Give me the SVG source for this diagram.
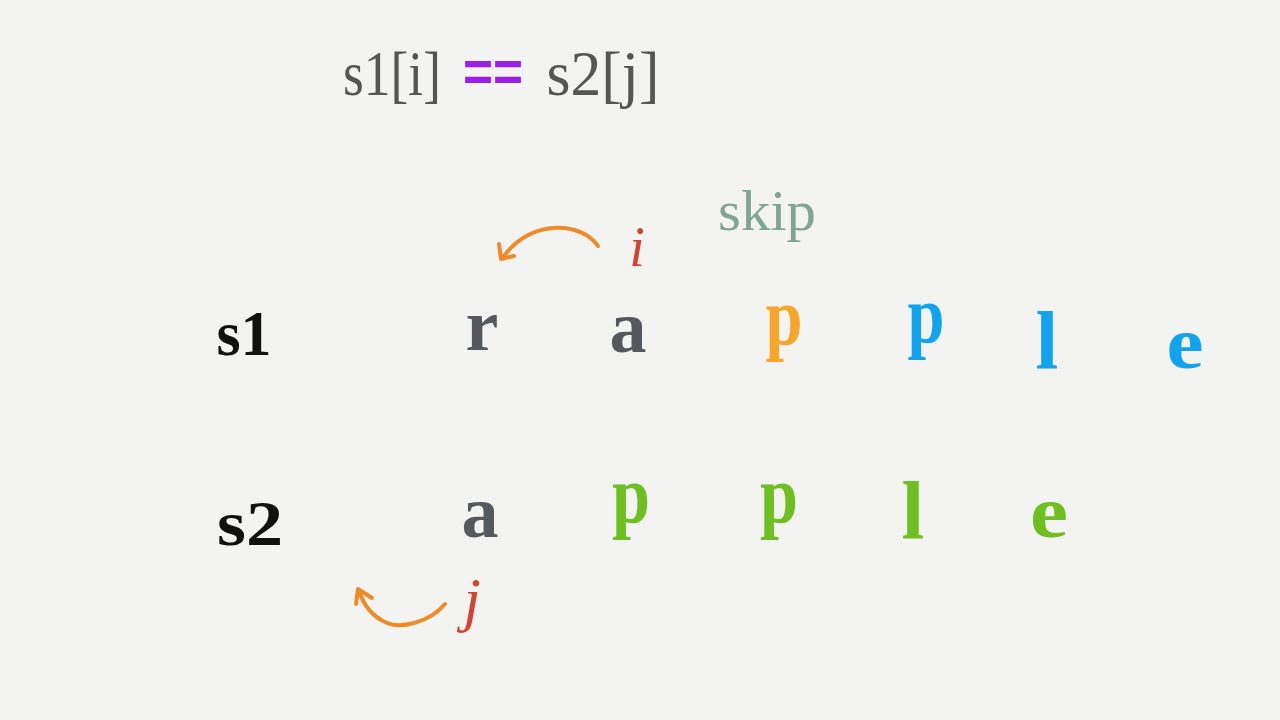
<svg xmlns="http://www.w3.org/2000/svg" width="1280" height="720" viewBox="0 0 1280 720">
<style>
.t{font-family:"Liberation Serif","DejaVu Serif",serif;text-anchor:middle}
.ch{font-size:74px;font-weight:bold}
.tall{font-size:82px}
.gray{fill:#55595d}
.org{fill:#f7a62c}
.blue{fill:#10a4ee}
.grn{fill:#6ec020}
.lbl{font-size:64px;font-weight:bold;fill:#111}
.arc{fill:none;stroke:#ef8a26;stroke-width:4;stroke-linecap:round;stroke-linejoin:round}
.ptr{font-family:"Liberation Serif",serif;font-style:italic;fill:#d4432c;text-anchor:middle}
</style>
<rect width="1280" height="720" fill="#f3f3f1"/>
<g id="title">
<text class="t" x="392" y="95" font-size="64" fill="#555" textLength="98" lengthAdjust="spacingAndGlyphs">s1[i]</text>
<text x="493" y="91" font-family="Liberation Sans,sans-serif" font-size="58" font-weight="bold" fill="#9b1fe8" text-anchor="middle" textLength="60" lengthAdjust="spacingAndGlyphs">==</text>
<text class="t" x="603" y="95" font-size="64" fill="#555" textLength="113" lengthAdjust="spacingAndGlyphs">s2[j]</text>
</g>
<g id="skip"><text class="t" x="767" y="230" font-size="56" fill="#7fa596" textLength="98" lengthAdjust="spacingAndGlyphs">skip</text></g>
<g id="ptr-i"><text class="ptr" x="637" y="266" font-size="56">i</text></g>
<g id="ptr-j"><text class="ptr" x="472" y="620" font-size="62">j</text></g>
<g id="connectors">
<path class="arc" d="M598,246 C582,222 532,218 504,256"/>
<path class="arc" d="M499,244 L501,259 L514,256"/>
<path class="arc" d="M445,604 C430,622 400,630 385,622 C372,616 364,606 359,591"/>
<path class="arc" d="M356,604 L358,589 L372,598"/>
</g>
<g id="s1">
<text class="t lbl" x="244" y="355" textLength="55" lengthAdjust="spacingAndGlyphs">s1</text>
<text class="t ch gray" x="482" y="350">r</text>
<text class="t ch gray" x="628" y="352">a</text>
<text class="t ch tall org" x="784" y="344" textLength="37" lengthAdjust="spacingAndGlyphs">p</text>
<text class="t ch tall blue" x="926" y="342" textLength="37" lengthAdjust="spacingAndGlyphs">p</text>
<text class="t ch tall blue" x="1047" y="368">l</text>
<text class="t ch blue" x="1185" y="368" textLength="37" lengthAdjust="spacingAndGlyphs">e</text>
</g>
<g id="s2">
<text class="t lbl" x="250" y="545" textLength="66" lengthAdjust="spacingAndGlyphs">s2</text>
<text class="t ch gray" x="480" y="537">a</text>
<text class="t ch tall grn" x="631" y="522" textLength="38" lengthAdjust="spacingAndGlyphs">p</text>
<text class="t ch tall grn" x="779" y="522" textLength="38" lengthAdjust="spacingAndGlyphs">p</text>
<text class="t ch tall grn" x="913" y="538">l</text>
<text class="t ch grn" x="1049" y="537" textLength="38" lengthAdjust="spacingAndGlyphs">e</text>
</g>
</svg>
